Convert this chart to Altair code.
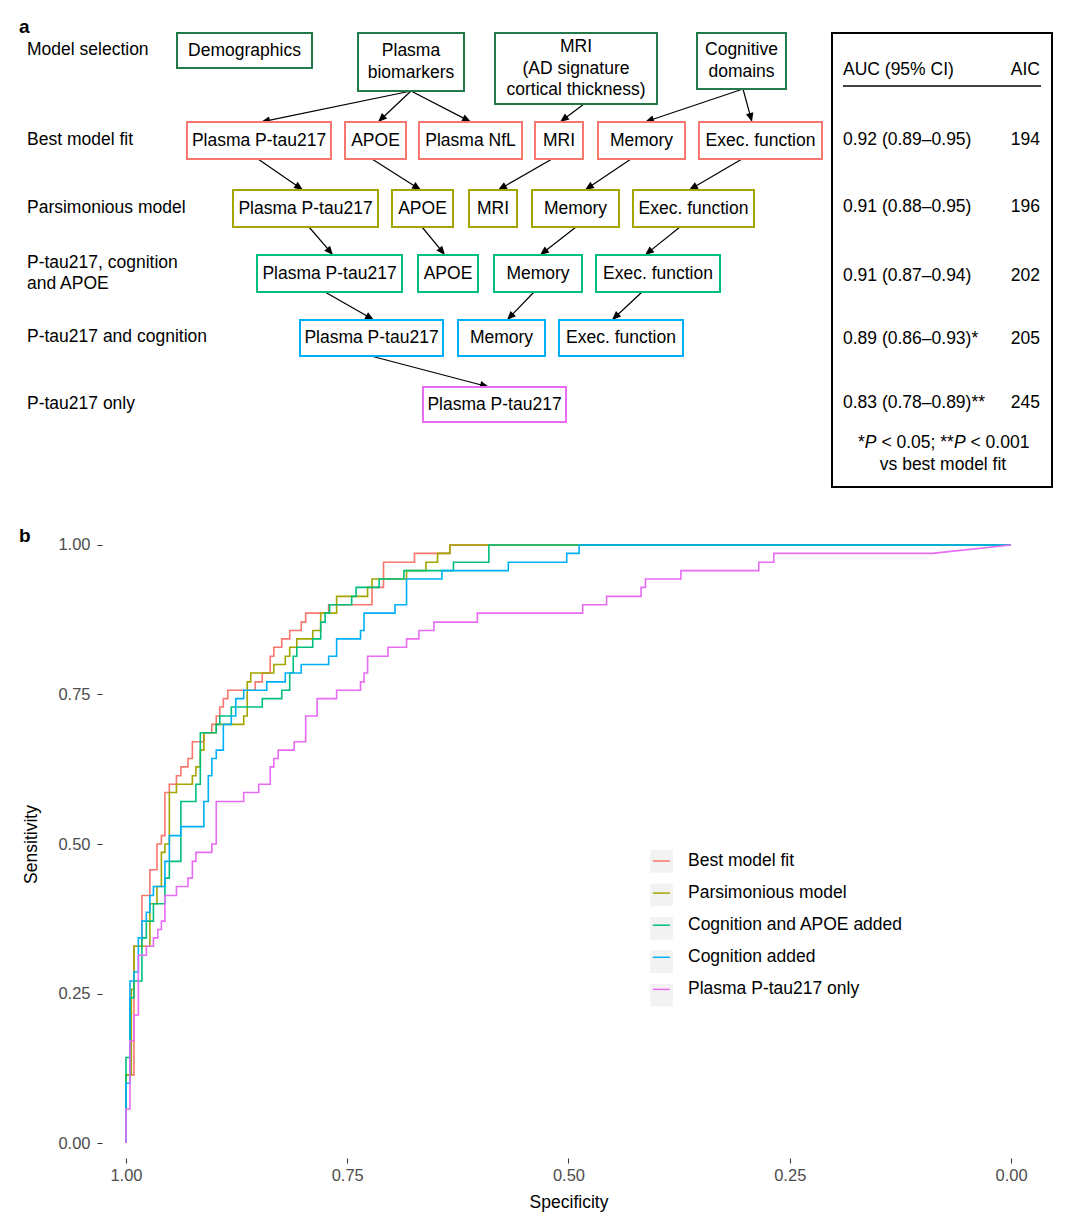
import math
import altair as alt
import pandas as pd

FONT = "Liberation Sans"
FS = 17.5

# ---------------- panel b : ROC curves (step points) ----------------
series_names = ["Best model fit", "Parsimonious model", "Cognition and APOE added",
                "Cognition added", "Plasma P-tau217 only"]
series_colors = ["#F8766D", "#A3A500", "#00BF7D", "#00B0F6", "#E76BF3"]

best_spec = [1.000, 0.991, 0.982, 0.973, 0.965, 0.960, 0.956, 0.951, 0.943, 0.938, 0.930,
             0.925, 0.912, 0.903, 0.898, 0.894, 0.890, 0.885, 0.854, 0.846, 0.837, 0.833,
             0.824, 0.815, 0.802, 0.797, 0.771, 0.722, 0.709, 0.674, 0.634]
best_sens = [0.114, 0.329, 0.414, 0.457, 0.500, 0.514, 0.586, 0.600, 0.614, 0.629, 0.643,
             0.671, 0.686, 0.700, 0.714, 0.729, 0.743, 0.757, 0.771, 0.786, 0.814, 0.829,
             0.843, 0.857, 0.871, 0.886, 0.900, 0.929, 0.971, 0.986, 1.000]
best_tail_spec, best_tail_sens = [0.0], [1.0]

pars_spec = [1.000, 0.994, 0.991, 0.973, 0.965, 0.960, 0.956, 0.951, 0.943, 0.925, 0.921,
             0.916, 0.912, 0.898, 0.867, 0.863, 0.859, 0.833, 0.820, 0.815, 0.807, 0.789,
             0.780, 0.762, 0.727, 0.722, 0.683, 0.661, 0.648, 0.634]
pars_sens = [0.114, 0.257, 0.329, 0.400, 0.429, 0.486, 0.500, 0.586, 0.600, 0.614, 0.629,
             0.657, 0.686, 0.700, 0.714, 0.771, 0.786, 0.800, 0.814, 0.829, 0.843, 0.857,
             0.886, 0.914, 0.929, 0.943, 0.957, 0.971, 0.986, 1.000]
pars_tail_spec, pars_tail_sens = [0.0], [1.0]

capoe_spec = [1.000, 0.9955, 0.991, 0.982, 0.977, 0.969, 0.956, 0.951, 0.938, 0.921, 0.916,
              0.898, 0.894, 0.881, 0.846, 0.824, 0.815, 0.811, 0.807, 0.789, 0.780, 0.775,
              0.770, 0.745, 0.740, 0.714, 0.686, 0.630, 0.590]
capoe_sens = [0.143, 0.243, 0.271, 0.343, 0.371, 0.400, 0.443, 0.471, 0.571, 0.600, 0.686,
              0.700, 0.714, 0.729, 0.743, 0.757, 0.786, 0.814, 0.829, 0.843, 0.871, 0.886,
              0.900, 0.914, 0.929, 0.943, 0.957, 0.971, 1.000]
capoe_tail_spec, capoe_tail_sens = [0.0], [1.0]

cog_spec = [1.000, 0.9955, 0.991, 0.986, 0.982, 0.977, 0.973, 0.969, 0.956, 0.951, 0.938,
            0.912, 0.907, 0.903, 0.898, 0.890, 0.881, 0.876, 0.867, 0.841, 0.820, 0.802,
            0.771, 0.762, 0.735, 0.731, 0.696, 0.683, 0.643, 0.568, 0.502, 0.488]
cog_sens = [0.100, 0.271, 0.286, 0.343, 0.371, 0.386, 0.414, 0.429, 0.471, 0.514, 0.529,
            0.571, 0.614, 0.643, 0.657, 0.700, 0.714, 0.743, 0.757, 0.771, 0.786, 0.800,
            0.814, 0.843, 0.857, 0.886, 0.900, 0.943, 0.957, 0.971, 0.986, 1.000]
cog_tail_spec, cog_tail_sens = [0.0], [1.0]

ptau_spec = [1.000, 0.9955, 0.991, 0.986, 0.977, 0.969, 0.964, 0.960, 0.956, 0.943, 0.930,
             0.925, 0.921, 0.903, 0.898, 0.867, 0.850, 0.837, 0.833, 0.828, 0.810, 0.797,
             0.784, 0.762, 0.735, 0.731, 0.727, 0.704, 0.683, 0.669, 0.652, 0.603, 0.484,
             0.457, 0.418, 0.413, 0.373, 0.285, 0.268]
ptau_sens = [0.057, 0.171, 0.214, 0.314, 0.329, 0.343, 0.357, 0.371, 0.414, 0.429, 0.443,
             0.471, 0.486, 0.500, 0.571, 0.586, 0.600, 0.629, 0.643, 0.657, 0.671, 0.714,
             0.743, 0.757, 0.771, 0.786, 0.814, 0.829, 0.843, 0.857, 0.871, 0.886, 0.900,
             0.914, 0.929, 0.943, 0.957, 0.971, 0.986]
ptau_tail_spec, ptau_tail_sens = [0.089, 0.0], [0.986, 1.0]

roc_steps = [
    (best_spec, best_sens, best_tail_spec, best_tail_sens),
    (pars_spec, pars_sens, pars_tail_spec, pars_tail_sens),
    (capoe_spec, capoe_sens, capoe_tail_spec, capoe_tail_sens),
    (cog_spec, cog_sens, cog_tail_spec, cog_tail_sens),
    (ptau_spec, ptau_sens, ptau_tail_spec, ptau_tail_sens),
]

# ---------------- panel a : model-selection diagram ----------------
row_labels = ["Model selection", "Best model fit", "Parsimonious model",
              "P-tau217, cognition\nand APOE", "P-tau217 and cognition", "P-tau217 only"]
row_label_y = [50, 140, 208, 273.5, 337, 404]
row_colors = ["#217A49", "#F8766D", "#A3A500", "#00BF7D", "#00B0F6", "#E76BF3"]

box_label = ["Demographics", "Plasma\nbiomarkers", "MRI\n(AD signature\ncortical thickness)",
             "Cognitive\ndomains",
             "Plasma P-tau217", "APOE", "Plasma NfL", "MRI", "Memory", "Exec. function",
             "Plasma P-tau217", "APOE", "MRI", "Memory", "Exec. function",
             "Plasma P-tau217", "APOE", "Memory", "Exec. function",
             "Plasma P-tau217", "Memory", "Exec. function",
             "Plasma P-tau217"]
box_row = [0, 0, 0, 0, 1, 1, 1, 1, 1, 1, 2, 2, 2, 2, 2, 3, 3, 3, 3, 4, 4, 4, 5]
box_x1 = [177, 358, 495, 697, 187, 345, 419, 535, 598, 699, 233, 392, 469, 532, 633,
          257, 418, 494, 596, 300, 458, 559, 423]
box_x2 = [312, 464, 657, 786, 331, 406, 522, 583, 685, 822, 378, 453, 517, 619, 754,
          402, 478, 582, 720, 443, 545, 683, 566]
box_y1 = [33, 33, 33, 33] + [122] * 6 + [190] * 5 + [255] * 4 + [320] * 3 + [387]
box_y2 = [68, 91, 104, 89] + [159] * 6 + [227] * 5 + [292] * 4 + [356] * 3 + [422]

arr_x1 = [411, 411, 411, 584, 743, 743, 258, 372, 552, 631, 742, 309, 422, 576, 680, 325, 534, 642, 371]
arr_y1 = [91, 91, 91, 104, 89, 89, 159, 159, 159, 159, 159, 227, 227, 227, 227, 292, 292, 292, 356]
arr_x2 = [261, 378, 471, 560, 645, 752, 303, 421, 498, 585, 689, 333, 445, 540, 645, 374, 507, 612, 489]
arr_y2 = [122, 122, 122, 122, 122, 122, 190, 190, 190, 190, 190, 255, 255, 255, 255, 320, 320, 320, 387]

tbl_header = ["AUC (95% CI)", "AIC"]
tbl_auc = ["0.92 (0.89–0.95)", "0.91 (0.88–0.95)", "0.91 (0.87–0.94)",
           "0.89 (0.86–0.93)*", "0.83 (0.78–0.89)**"]
tbl_aic = ["194", "196", "202", "205", "245"]
tbl_y = [140, 207, 276, 339, 403]
foot_parts = ["*", "P", "< 0.05; **", "P", "< 0.001"]
foot_italic = [False, True, False, True, False]
foot_x = [858, 864.8, 881.4, 953.9, 970.5]
foot_line2 = "vs best model fit"

panel_letters = ["a", "b"]
panel_letter_y = [27, 536]

# ---------------- build tables ----------------
roc_rows = []
for name, (sp, se, tsp, tse) in zip(series_names, roc_steps):
    assert len(sp) == len(se)
    xs, ys, prev = [1.0], [0.0], 0.0
    for s, t in zip(sp, se):
        xs += [s, s]
        ys += [prev, t]
        prev = t
    xs += tsp
    ys += tse
    for i, (x, y) in enumerate(zip(xs, ys)):
        roc_rows.append({"series": name, "spec": x, "sens": y, "i": i})
roc_df = pd.DataFrame(roc_rows)

# page-pixel scales for the diagram (plot area spans x 102..1035, y 530..1158)
PX = alt.Scale(domain=[102, 1035], nice=False, zero=False)
PY = alt.Scale(domain=[530, 1158], nice=False, zero=False, reverse=True)
SX = alt.Scale(domain=[-0.0271, 1.0271], nice=False, zero=False, reverse=True)
SY = alt.Scale(domain=[-0.025, 1.025], nice=False, zero=False)


def px(f):
    return alt.X(f"{f}:Q", scale=PX, axis=None)


def py(f):
    return alt.Y(f"{f}:Q", scale=PY, axis=None)


def first_line_y(texts, centers, lh):
    return [c - (t.count("\n")) * lh / 2 for t, c in zip(texts, centers)]


layers = []

frame_df = pd.DataFrame({"x": [0], "x2": [1080], "y": [0], "y2": [1232]})
layers.append(alt.Chart(frame_df).mark_rect(fill="white", strokeWidth=0).encode(
    x=px("x"), x2="x2", y=py("y"), y2="y2"))

BOX_LH = 21.5
box_df = pd.DataFrame({"label": box_label, "row": box_row, "x1": box_x1, "x2": box_x2,
                       "y1": box_y1, "y2": box_y2})
box_df["col"] = [row_colors[r] for r in box_row]
box_df["cx"] = (box_df["x1"] + box_df["x2"]) / 2
box_df["ty"] = first_line_y(box_label, list((box_df["y1"] + box_df["y2"]) / 2), BOX_LH)

arr_df = pd.DataFrame({"x1": arr_x1, "y1": arr_y1, "x2": arr_x2, "y2": arr_y2})
dx = arr_df["x2"] - arr_df["x1"]
dy = arr_df["y2"] - arr_df["y1"]
ln = (dx ** 2 + dy ** 2) ** 0.5
arr_df["xe"] = arr_df["x2"] - 3 * dx / ln
arr_df["ye"] = arr_df["y2"] - 3 * dy / ln
arr_df["ang"] = [(math.degrees(math.atan2(a, -b)) + 360) % 360 for a, b in zip(dx, dy)]

layers.append(alt.Chart(arr_df).mark_rule(color="black", strokeWidth=1.2).encode(
    x=px("x1"), y=py("y1"), x2="xe", y2="ye"))
layers.append(alt.Chart(arr_df).mark_point(
    shape="M0,0L0.42,1L-0.42,1Z", filled=True, color="black", size=324, opacity=1,
    strokeWidth=0).encode(x=px("x2"), y=py("y2"), angle=alt.Angle("ang:Q", scale=None)))

layers.append(alt.Chart(box_df).mark_rect(fill="white", strokeWidth=2).encode(
    x=px("x1"), x2="x2", y=py("y1"), y2="y2", stroke=alt.Stroke("col:N", scale=None)))
layers.append(alt.Chart(box_df).mark_text(
    font=FONT, fontSize=FS, align="center", baseline="middle", lineBreak="\n",
    lineHeight=BOX_LH, color="black").encode(x=px("cx"), y=py("ty"), text="label:N"))

ROW_LH = 21
row_df = pd.DataFrame({"label": row_labels,
                       "y": first_line_y(row_labels, row_label_y, ROW_LH),
                       "x": [27] * len(row_labels)})
layers.append(alt.Chart(row_df).mark_text(
    font=FONT, fontSize=FS, align="left", baseline="middle", lineBreak="\n",
    lineHeight=ROW_LH, color="black").encode(x=px("x"), y=py("y"), text="label:N"))

let_df = pd.DataFrame({"label": panel_letters, "y": panel_letter_y, "x": [19, 19]})
layers.append(alt.Chart(let_df).mark_text(
    font=FONT, fontSize=19, fontWeight="bold", align="left", baseline="middle",
    color="black").encode(x=px("x"), y=py("y"), text="label:N"))

# table box
tb_df = pd.DataFrame({"x": [832], "x2": [1052], "y": [33], "y2": [487]})
layers.append(alt.Chart(tb_df).mark_rect(fillOpacity=0, stroke="black", strokeWidth=2).encode(
    x=px("x"), x2="x2", y=py("y"), y2="y2"))
ul_df = pd.DataFrame({"x": [843], "x2": [1041], "y": [86]})
layers.append(alt.Chart(ul_df).mark_rule(color="black", strokeWidth=1.5).encode(
    x=px("x"), x2="x2", y=py("y")))

left_df = pd.DataFrame({"t": [tbl_header[0]] + tbl_auc, "y": [70] + tbl_y, "x": [843] * 6})
right_df = pd.DataFrame({"t": [tbl_header[1]] + tbl_aic, "y": [70] + tbl_y, "x": [1040] * 6})
layers.append(alt.Chart(left_df).mark_text(
    font=FONT, fontSize=FS, align="left", baseline="middle", color="black").encode(
    x=px("x"), y=py("y"), text="t:N"))
layers.append(alt.Chart(right_df).mark_text(
    font=FONT, fontSize=FS, align="right", baseline="middle", color="black").encode(
    x=px("x"), y=py("y"), text="t:N"))

foot_df = pd.DataFrame({"t": foot_parts, "it": foot_italic, "x": foot_x, "y": [443] * 5})
layers.append(alt.Chart(foot_df[~foot_df["it"]]).mark_text(
    font=FONT, fontSize=FS, align="left", baseline="middle", color="black").encode(
    x=px("x"), y=py("y"), text="t:N"))
layers.append(alt.Chart(foot_df[foot_df["it"]]).mark_text(
    font=FONT, fontSize=FS, fontStyle="italic", align="left", baseline="middle",
    color="black").encode(x=px("x"), y=py("y"), text="t:N"))
f2_df = pd.DataFrame({"t": [foot_line2], "x": [943], "y": [465]})
layers.append(alt.Chart(f2_df).mark_text(
    font=FONT, fontSize=FS, align="center", baseline="middle", color="black").encode(
    x=px("x"), y=py("y"), text="t:N"))

# ROC lines
tick_vals = [0, 0.25, 0.5, 0.75, 1]
x_axis = alt.Axis(values=tick_vals, format=".2f", domain=False, grid=False, ticks=True,
                  tickSize=5, tickColor="#333333", tickWidth=1, labelFont=FONT,
                  labelFontSize=16.5, labelColor="#4D4D4D", labelPadding=4,
                  labelFlush=False, labelOverlap=False, zindex=2,
                  title="Specificity", titleFont=FONT, titleFontSize=FS,
                  titleFontWeight="normal", titleColor="black", titleX=466.5, titleY=44,
                  titleBaseline="middle", titleAlign="center")
y_axis = alt.Axis(values=tick_vals, format=".2f", domain=False, grid=False, ticks=True,
                  tickSize=5, tickColor="#333333", tickWidth=1, labelFont=FONT,
                  labelFontSize=16.5, labelColor="#4D4D4D", labelPadding=7,
                  labelFlush=False, labelOverlap=False, zindex=2,
                  title="Sensitivity", titleFont=FONT, titleFontSize=FS,
                  titleFontWeight="normal", titleColor="black", titleAngle=270,
                  titleX=-71, titleY=314, titleBaseline="middle", titleAlign="center")

layers.append(alt.Chart(roc_df).mark_line(strokeWidth=1.6, clip=False).encode(
    x=alt.X("spec:Q", scale=SX, axis=x_axis),
    y=alt.Y("sens:Q", scale=SY, axis=y_axis),
    color=alt.Color("series:N", scale=alt.Scale(domain=series_names, range=series_colors),
                    legend=alt.Legend(title=None, orient="none", legendX=549.85, legendY=321.5,
                                      symbolType="stroke", symbolSize=289,
                                      symbolStrokeWidth=1.5, labelFont=FONT,
                                      labelFontSize=FS, labelColor="black", labelLimit=400,
                                      labelOffset=17.15, rowPadding=14.1, padding=0,
                                      zindex=3)),
    order=alt.Order("i:Q"),
))

# grey legend key backgrounds (own domain so it is not merged with the colour legend)
key_ids = ["k1", "k2", "k3", "k4", "k5"]
key_df = pd.DataFrame({"key": key_ids})
layers.append(alt.Chart(key_df).mark_square(size=0).encode(
    fill=alt.Fill("key:N",
                  scale=alt.Scale(domain=key_ids, range=["#F2F2F2"] * 5),
                  legend=alt.Legend(title=None, orient="none", legendX=548, legendY=320,
                                    symbolType="square", symbolSize=515,
                                    symbolStrokeWidth=0, symbolOpacity=1,
                                    labelExpr="''", labelFontSize=FS, rowPadding=10.4,
                                    padding=0, zindex=1))))

chart = alt.layer(*layers).resolve_scale(x="independent", y="independent").properties(
    width=933, height=628, padding=0, background="white").configure_view(strokeWidth=0)

chart.save("out.html", embed_options={"renderer": "svg", "actions": False})
